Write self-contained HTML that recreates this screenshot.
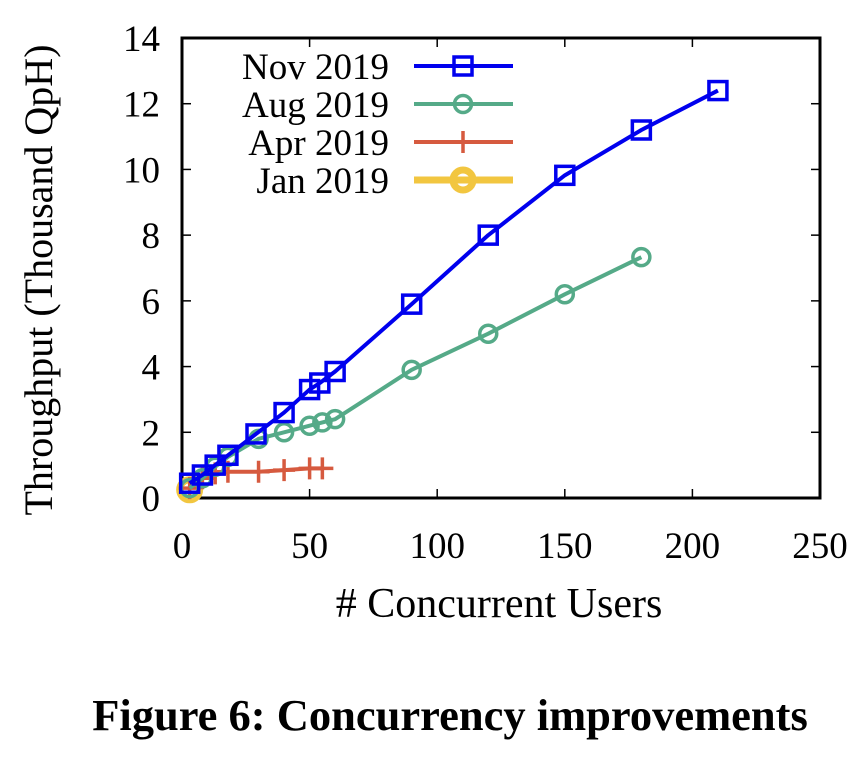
<!DOCTYPE html>
<html><head><meta charset="utf-8"><style>
html,body{margin:0;padding:0;background:#fff;}
svg text{font-family:"Liberation Serif",serif;fill:#000;}
</style></head><body>
<svg id="chart" width="866" height="752" viewBox="0 0 866 752" xmlns="http://www.w3.org/2000/svg">
<g id="axes"></g>
<g id="series"></g>
<g id="legend"></g>
<text transform="translate(52,280) rotate(-90)" text-anchor="middle" font-size="40">Throughput (Thousand QpH)</text>
<text x="499" y="617" text-anchor="middle" font-size="42"># Concurrent Users</text>
<text x="450" y="730" text-anchor="middle" font-size="44.5" font-weight="bold">Figure 6: Concurrency improvements</text>
</svg>
<script>
const xTicks=[0,50,100,150,200,250];
const yTicks=[0,2,4,6,8,10,12,14];
const novX=[3,8,13,18,29,40,50,54,60,90,120,150,180,210];
const novY=[0.45,0.7,1.0,1.3,1.95,2.6,3.3,3.5,3.85,5.9,8.0,9.82,11.2,12.4];
const augX=[3,8,13,18,30,40,50,55,60,90,120,150,180];
const augY=[0.3,0.6,0.95,1.25,1.8,2.0,2.2,2.3,2.4,3.9,5.0,6.2,7.33];
const aprX=[3,8,13,18,30,40,50,55];
const aprY=[0.3,0.6,0.75,0.8,0.8,0.85,0.9,0.9];
const janX=[3];
const janY=[0.25];
const legendLabels=["Nov 2019","Aug 2019","Apr 2019","Jan 2019"];
const L=182,R=820,T=38,B=498;
const sx=v=>L+(v-0)/(250-0)*(R-L);
const sy=v=>B-(v-0)/(14-0)*(B-T);
const NS="http://www.w3.org/2000/svg";
function mk(tag,attrs,parent){const e=document.createElementNS(NS,tag);for(const k in attrs)e.setAttribute(k,attrs[k]);parent.appendChild(e);return e;}
const axes=document.getElementById('axes');
const frame=mk('rect',{x:L,y:T,width:R-L,height:B-T,fill:'none',stroke:'#000','stroke-width':3},axes);


xTicks.forEach(t=>{
  const x=sx(t);
  const a=mk('line',{x1:x,x2:x,y1:B,y2:B-9,stroke:'#000','stroke-width':1.5},axes);
  
  
  const b=mk('line',{x1:x,x2:x,y1:T,y2:T+9,stroke:'#000','stroke-width':1.5},axes);
  
  
  const tx=mk('text',{x:x,y:B+60,'text-anchor':'middle','font-size':37},axes);
  tx.textContent=t;
  
  
});
yTicks.forEach(t=>{
  const y=sy(t);
  const a=mk('line',{x1:L,x2:L+9,y1:y,y2:y,stroke:'#000','stroke-width':1.5},axes);
  
  
  const b=mk('line',{x1:R,x2:R-9,y1:y,y2:y,stroke:'#000','stroke-width':1.5},axes);
  
  
  const tx=mk('text',{x:L-22,y:y+13,'text-anchor':'end','font-size':37},axes);
  tx.textContent=t;
  
  
});
const series=document.getElementById('series');
function marker(type,x,y,color,g,big){
  let m;
  if(type==='sq'){m=mk('rect',{x:x-9,y:y-9,width:18,height:18,fill:'none',stroke:color,'stroke-width':3.5},g);}
  else if(type==='circ'){m=mk('circle',{cx:x,cy:y,r:big?10:8.5,fill:'none',stroke:color,'stroke-width':big?7:3.5},g);}
  else {m=mk('path',{d:`M${x-11},${y}H${x+11}M${x},${y-11}V${y+11}`,stroke:color,'stroke-width':3.5,fill:'none'},g);}
  return m;
}
function drawSeries(name,xs,ys,color,type,w,big){
  const g=mk('g',{},series);
  
  
  const pts=xs.map((x,i)=>sx(x)+','+sy(ys[i])).join(' ');
  const pl=mk('polyline',{points:pts,fill:'none',stroke:color,'stroke-width':w,'stroke-linejoin':'round'},g);
  
  
  xs.forEach((x,i)=>{
    const m=marker(type,sx(x),sy(ys[i]),color,g,big);
    
    
  });
}
drawSeries('series-jan-2019',janX,janY,'#f2c640','circ',7,true);
drawSeries('series-apr-2019',aprX,aprY,'#d65a3f','plus',4);
drawSeries('series-aug-2019',augX,augY,'#55aa88','circ',4);
drawSeries('series-nov-2019',novX,novY,'#0000ee','sq',4);
const leg=document.getElementById('legend');
const legColors=['#0000ee','#55aa88','#d65a3f','#f2c640'];
const legTypes=['sq','circ','plus','circ'];
legendLabels.forEach((lab,i)=>{
  const y=66+i*38;
  const g=mk('g',{},leg);
  
  
  const t=mk('text',{x:389,y:y+13,'text-anchor':'end','font-size':37},g);
  t.textContent=lab;
  mk('line',{x1:414,x2:513,y1:y,y2:y,stroke:legColors[i],'stroke-width':i===3?7:4},g);
  marker(legTypes[i],463,y,legColors[i],g,i===3);
});
</script>
</body></html>
